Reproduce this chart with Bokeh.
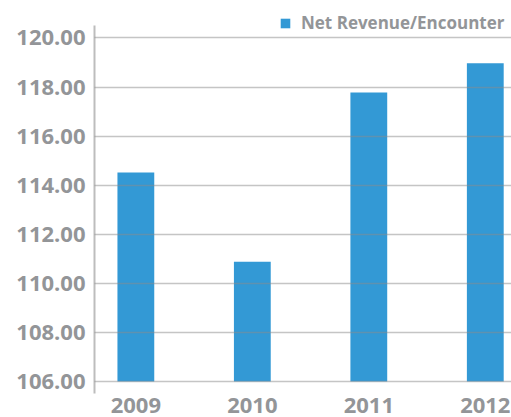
from bokeh.plotting import figure
from bokeh.models import (Range1d, FixedTicker, PrintfTickFormatter, Legend,
                          LegendItem, ColumnDataSource)
from bokeh.embed import file_html
from bokeh.resources import INLINE

years = ["2009", "2010", "2011", "2012"]
net_revenue = [114.52, 110.88, 117.78, 118.97]
y_ticks = [106, 108, 110, 112, 114, 116, 118, 120]
series_name = "Net Revenue/Encounter"

TEXT = "#939598"
BAR = "#3399D5"
FONT = "Open Sans"

xs = list(range(len(years)))
src = ColumnDataSource(dict(x=xs, top=net_revenue))

p = figure(width=511, height=417, output_backend="svg", toolbar_location=None,
           x_range=Range1d(-0.355, 3.225), y_range=Range1d(105.51, 121.2),
           min_border_left=94, min_border_top=8, min_border_right=0,
           min_border_bottom=24)
p.outline_line_color = None
p.background_fill_color = "white"
p.border_fill_color = "white"

r = p.vbar(x="x", top="top", bottom=y_ticks[0], width=0.316, source=src,
           fill_color=BAR, line_color=None)

# x axis
xa = p.xaxis[0]
xa.ticker = FixedTicker(ticks=xs)
xa.major_label_overrides = {i: y for i, y in enumerate(years)}
xa.axis_line_color = None
xa.major_tick_line_color = None
xa.minor_tick_line_color = None
xa.major_tick_out = 0
xa.major_tick_in = 0
xa.major_label_standoff = 4
xa.major_label_text_font = FONT
xa.major_label_text_font_style = "bold"
xa.major_label_text_font_size = "22px"
xa.major_label_text_color = TEXT

# y axis
ya = p.yaxis[0]
ya.ticker = FixedTicker(ticks=y_ticks)
ya.formatter = PrintfTickFormatter(format="%.2f")
ya.bounds = (105.51, 120.51)
ya.axis_line_color = "#bdbdbd"
ya.axis_line_width = 2
ya.major_tick_line_color = None
ya.minor_tick_line_color = None
ya.major_tick_out = 0
ya.major_tick_in = 0
ya.major_label_standoff = 9
ya.major_label_text_font = FONT
ya.major_label_text_font_style = "bold"
ya.major_label_text_font_size = "22px"
ya.major_label_text_color = TEXT

p.xgrid.grid_line_color = None
p.ygrid.ticker = FixedTicker(ticks=y_ticks)
p.ygrid.grid_line_color = "#8c8c8c"
p.ygrid.grid_line_alpha = 0.5
p.ygrid.grid_line_width = 1.5
p.ygrid.level = "annotation"

legend = Legend(items=[LegendItem(label=series_name, renderers=[r])],
                location=(185, 359), orientation="horizontal",
                glyph_width=12, glyph_height=12, label_standoff=10,
                padding=0, margin=0, border_line_color=None,
                background_fill_alpha=0,
                label_text_font=FONT, label_text_font_style="bold",
                label_text_font_size="17px", label_text_color=TEXT)
p.add_layout(legend)

open("out.html", "w").write(file_html(p, INLINE))
